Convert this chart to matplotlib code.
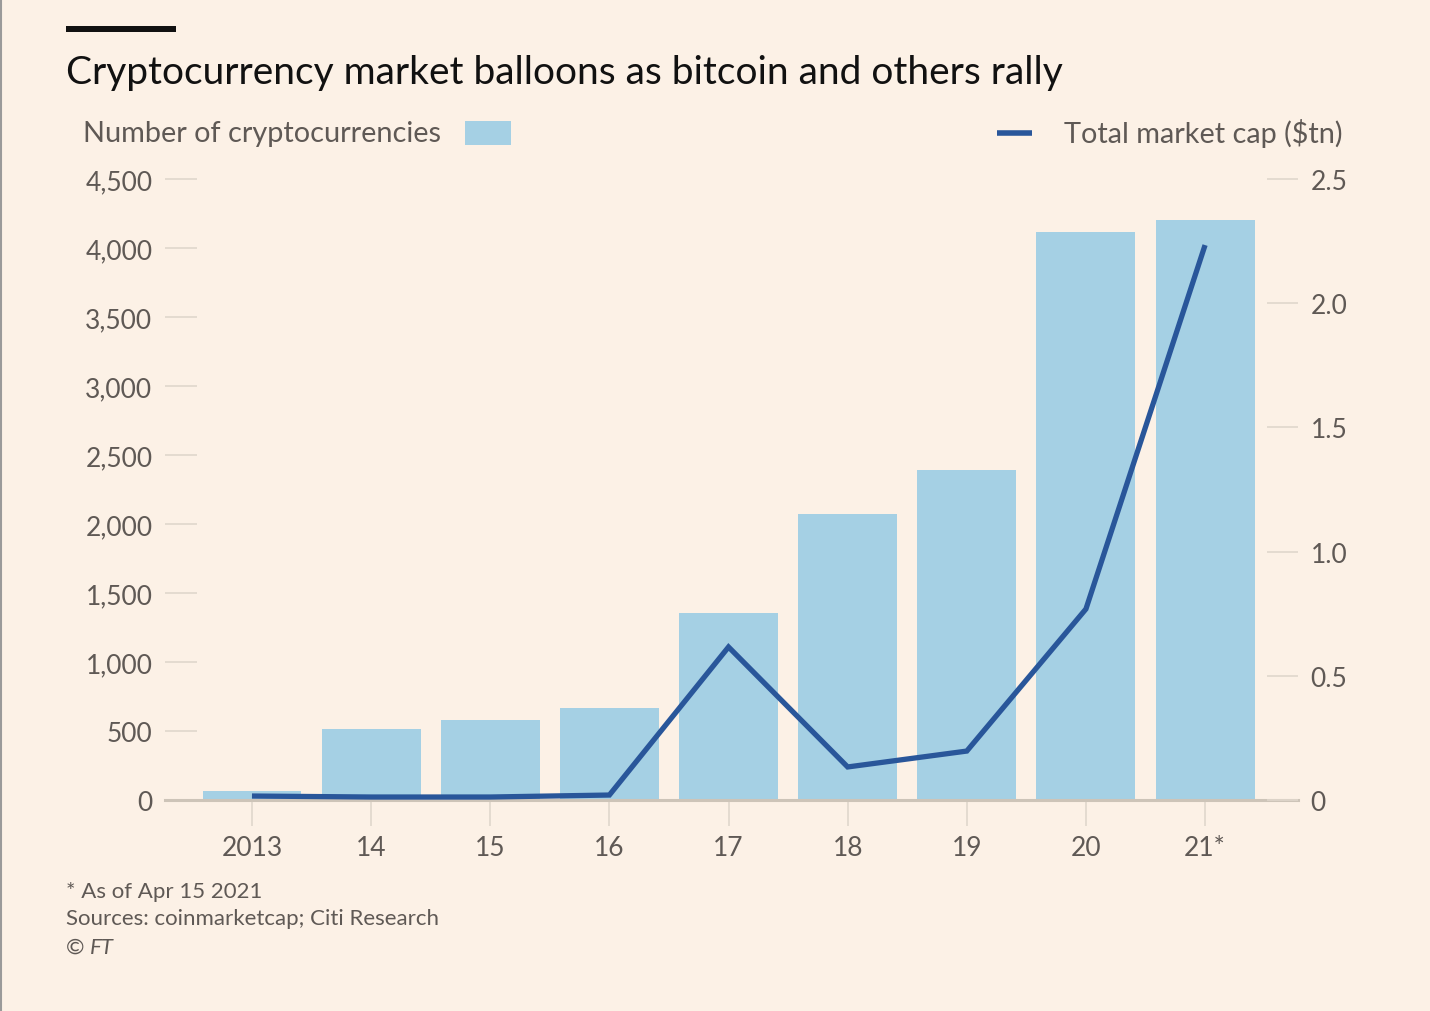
import numpy as np
import matplotlib
matplotlib.use('Agg')
import matplotlib.pyplot as plt
from matplotlib.lines import Line2D
from matplotlib.patches import Rectangle

# data
years = ['2013', '14', '15', '16', '17', '18', '19', '20', '21*']
n_coins = [66, 514, 580, 667, 1355, 2072, 2391, 4116, 4203]
market_cap = [0.016, 0.012, 0.012, 0.02, 0.616, 0.133, 0.197, 0.769, 2.234]

left_ticks = [0, 500, 1000, 1500, 2000, 2500, 3000, 3500, 4000, 4500]
right_ticks = [0, 0.5, 1.0, 1.5, 2.0, 2.5]
right_labels = ['0', '0.5', '1.0', '1.5', '2.0', '2.5']

bg = '#fcf1e6'
bar_col = '#a5d0e4'
line_col = '#29569a'
txt_col = '#5f5955'
tick_col = '#e0d7cc'
base_col = '#cdc4b8'

plt.rcParams['font.family'] = ['Lato', 'DejaVu Sans']

fig = plt.figure(figsize=(14.3, 10.12), dpi=100, facecolor=bg)
ax = fig.add_axes([165/1430, 1-801/1012, (1298-165)/1430, (801-180)/1012])
ax.set_facecolor(bg)

x = np.arange(len(years))
ax.bar(x, n_coins, width=0.83, color=bar_col, zorder=2)
ax.set_xlim(-0.73, 8.78)
ax.set_ylim(0, 4500)

ax2 = ax.twinx()
ax2.plot(x, market_cap, color=line_col, lw=3.8, solid_capstyle='butt',
         solid_joinstyle='miter', zorder=3)
ax2.set_ylim(0, 2.5)

for a in (ax, ax2):
    for s in a.spines.values():
        s.set_visible(False)

ax.spines['bottom'].set_visible(True)
ax.spines['bottom'].set_color(base_col)
ax.spines['bottom'].set_linewidth(2.2)
ax.spines['bottom'].set_zorder(4)

ax.set_yticks(left_ticks)
ax.set_yticklabels([f'{v:,}' for v in left_ticks])
ax.tick_params(axis='y', direction='in', length=23, width=1.2, color=tick_col,
               pad=9, labelsize=19, labelcolor=txt_col)

ax2.set_yticks(right_ticks)
ax2.set_yticklabels(right_labels)
ax2.tick_params(axis='y', direction='in', length=22, width=1.2, color=tick_col,
                pad=9, labelsize=19, labelcolor=txt_col)

ax.set_xticks(x)
ax.set_xticklabels(years)
ax.tick_params(axis='x', direction='out', length=19, width=1.2, color=tick_col,
               pad=6, labelsize=19, labelcolor=txt_col)

# black bar + title
fig.add_artist(Rectangle((66/1430, 1-33/1012), 110/1430, 6/1012,
                         transform=fig.transFigure, color='#111111', lw=0))
fig.text(66/1430, 1-73/1012, 'Cryptocurrency market balloons as bitcoin and others rally',
         fontsize=28, color='#111111', va='center', ha='left')

# legend row
fig.text(83/1430, 1-134/1012, 'Number of cryptocurrencies', fontsize=20.8,
         color=txt_col, va='center', ha='left')
fig.add_artist(Rectangle((465/1430, 1-146/1012), 46/1430, 24/1012,
                         transform=fig.transFigure, color=bar_col, lw=0))
fig.add_artist(Line2D([997/1430, 1032/1430], [1-134/1012, 1-134/1012],
                      transform=fig.transFigure, color=line_col, lw=4,
                      solid_capstyle='butt'))
fig.text(1342/1430, 1-134/1012, 'Total market cap ($tn)', fontsize=20.8,
         color=txt_col, va='center', ha='right')

# notes
fig.text(66/1430, 1-892/1012, '* As of Apr 15 2021', fontsize=16,
         color=txt_col, va='center', ha='left')
fig.text(66/1430, 1-919/1012, 'Sources: coinmarketcap; Citi Research', fontsize=16,
         color=txt_col, va='center', ha='left')
fig.text(66/1430, 1-948/1012, '\u00a9 ', fontsize=16,
         color=txt_col, va='center', ha='left')
fig.text(90/1430, 1-948/1012, 'FT', fontsize=16, style='italic',
         color=txt_col, va='center', ha='left')

# screenshot edge on the left
fig.add_artist(Line2D([1/1430, 1/1430], [0, 1], transform=fig.transFigure,
                      color='#9a9a9a', lw=1.5))

fig.savefig('out.png', dpi=100, facecolor=bg)
